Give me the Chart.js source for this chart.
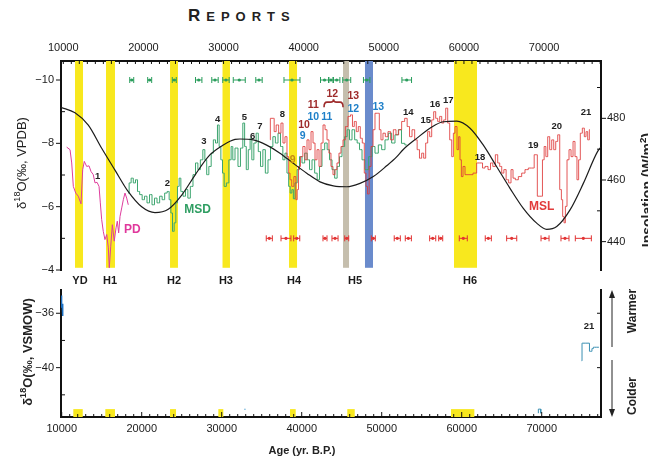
<!DOCTYPE html>
<html><head><meta charset="utf-8">
<script src="https://cdn.jsdelivr.net/npm/chart.js@4.4.1/dist/chart.umd.min.js"></script>
<style>
body{margin:0;width:648px;height:457px;overflow:hidden;background:#fff;position:relative;font-family:'Liberation Sans',Arial,sans-serif}
canvas{position:absolute;left:0}
#c1{top:0}
#c2{top:285px}
.t{position:absolute;white-space:nowrap;color:#222;line-height:1}
.rot{transform:translate(-50%,-50%) rotate(-90deg)}
.ctr{transform:translate(-50%,-50%)}
sup{font-size:70%;vertical-align:top;position:relative;top:-2px}
</style></head><body>
<div class="t" style="left:188px;top:7px;font-weight:bold;font-size:17px;letter-spacing:6px">R<span style="font-size:13px">EPORTS</span></div>
<canvas id="c1" width="648" height="290" style="width:648px;height:290px"></canvas>
<canvas id="c2" width="648" height="172" style="width:648px;height:172px"></canvas>
<div class="t rot" style="left:21px;top:163px;font-size:13px">δ<sup>18</sup>O(‰, VPDB)</div>
<div class="t rot" style="left:647px;top:190px;font-size:14px;font-weight:bold">Insolation (W/m<sup>2</sup>)</div>
<div class="t rot" style="left:27px;top:352px;font-size:13px;font-weight:bold">δ<sup>18</sup>O(‰, VSMOW)</div>
<div class="t ctr" style="left:302px;top:450px;font-size:11px;font-weight:bold">Age (yr. B.P.)</div>
<div class="t rot" style="left:632px;top:311px;font-size:12px;font-weight:bold">Warmer</div>
<div class="t rot" style="left:632px;top:396px;font-size:12px;font-weight:bold">Colder</div>
<script>
// ---------- data ----------
const topAgeTicks = [10000,20000,30000,40000,50000,60000,70000];
const leftTicks = [-10,-8,-6,-4];
const leftMinor = [-9,-7,-5];
const rightTicks = [440,460,480];
const rightMinor = [450,470,490];
const bottomLeftTicks = [-36,-40];
const bottomLeftMinor = [-38,-42];

const pdAge = [10420,10840,11050,11250,11550,11870,12210,12420,12620,12920,13210,13460,13740,13960,14210,14460,14620,14790,14990,15200,15420,15620,15740,15920,16120,16360,16580,16740,16910,17080,17290,17490,17700,17910,18110];
const pdD18O = [-7.88,-7.80,-7.38,-6.64,-6.43,-6.33,-6.09,-7.17,-7.43,-7.27,-7.29,-7.11,-7.01,-6.75,-6.77,-6.64,-6.12,-5.59,-5.22,-4.96,-5.12,-4.70,-4.07,-4.75,-5.43,-4.91,-5.33,-5.54,-5.17,-5.69,-5.96,-6.22,-6.43,-6.27,-6.06];

const msdAge = [18110,18320,18610,18860,19160,19360,19700,19980,20280,20610,20910,21230,21530,21860,22190,22480,22820,23100,23320,23530,23730,23940,24150,24350,24560,24780,25100,25400,25690,26020,26350,26650,26940,27270,27560,27770,28020,28310,28600,28850,29140,29340,29560,29770,29970,30180,30520,30800,31090,31220,31640,31960,32260,32550,32710,32960,33210,33420,33640,33920,34210,34460,34760,35050,35380,35710,36010,36300,36630,36960,37260,37540,37790,38040,38210,38420,38630,38790,39040,39330,39630,39950,40290,40580,40880,41200,41540,41820,42120,42450,42790,43070,43370,43700,44030,44320,44620,44940,45280,45570,45870,46190,46530,46820,47120,47440,47860,48360,48690,49110,49520,49940,50360,50770,51180,51610,52020,52390,52860];
const msdD18O = [-6.43,-6.75,-6.90,-6.75,-6.85,-6.48,-6.38,-6.22,-6.33,-6.12,-6.38,-6.06,-6.27,-6.12,-6.33,-6.22,-6.43,-6.48,-6.22,-5.80,-5.22,-5.49,-6.12,-6.64,-6.90,-6.48,-6.33,-6.54,-6.27,-6.64,-7.01,-7.38,-7.17,-7.48,-7.80,-7.48,-7.01,-7.27,-7.69,-8.11,-8.01,-8.58,-7.90,-7.48,-7.06,-6.64,-6.75,-7.48,-7.90,-7.48,-7.85,-7.27,-7.85,-8.64,-7.90,-7.17,-7.80,-8.16,-7.48,-8.01,-8.32,-7.74,-7.27,-7.80,-7.06,-7.48,-7.90,-8.21,-8.01,-8.32,-7.90,-7.48,-7.69,-7.06,-6.64,-6.43,-6.54,-6.25,-6.75,-7.17,-7.58,-7.38,-7.69,-7.48,-7.17,-7.48,-7.06,-6.85,-7.27,-7.80,-8.01,-7.80,-7.48,-7.17,-6.90,-7.27,-7.58,-7.90,-8.21,-8.43,-8.11,-8.43,-8.11,-8.01,-7.80,-7.48,-7.17,-7.58,-7.90,-7.69,-7.95,-7.80,-8.11,-8.32,-8.01,-8.27,-8.43,-8.00,-7.95];

const mslAge = [35800,35880,36210,36420,36710,37040,37290,37540,37790,38040,38210,38380,38630,38920,39130,39250,39450,39750,40040,40290,40540,40790,41040,41290,41540,41790,42040,42290,42540,42790,43030,43280,43530,43780,44030,44280,44530,44780,45030,45370,45690,45990,46190,46440,46690,46940,47190,47440,47690,47860,48060,48280,48530,48780,49020,49360,49520,49770,50020,50360,50680,51020,51360,51680,52020,52430,52770,53060,53360,53680,54020,54300,54600,54850,55100,55350,55600,55850,56100,56350,56600,56850,57100,57350,57600,57850,58100,58350,58600,58760,59010,59260,59420,59600,59760,60010,60260,60760,61500,61670,62220,62420,62840,63170,63460,63750,64090,64340,64590,64840,65120,65410,65750,66000,66250,66580,67000,67410,67830,68240,68660,68870,69080,69240,69700,69900,70120,70330,70580,70830,71080,71330,71580,71830,72080,72240,72400,72580,72740,72990,73240,73490,73740,73980,74230,74400,74650,74900,75150,75320,75570,75730];
const mslD18O = [-8.11,-8.79,-8.79,-8.37,-8.58,-8.32,-8.64,-8.01,-8.21,-7.58,-7.06,-6.85,-6.64,-6.95,-6.22,-6.54,-7.27,-7.58,-7.90,-7.48,-8.11,-7.80,-8.37,-8.01,-7.48,-7.80,-7.27,-8.01,-8.58,-8.43,-8.11,-7.69,-7.27,-7.01,-7.17,-7.38,-7.69,-7.90,-8.11,-8.53,-8.85,-8.90,-8.53,-8.69,-8.37,-8.53,-8.16,-8.01,-7.06,-6.64,-6.40,-7.27,-7.90,-8.43,-8.95,-8.95,-8.43,-8.11,-8.32,-8.21,-8.37,-8.11,-8.43,-8.27,-8.43,-8.69,-8.79,-8.53,-8.21,-8.43,-8.11,-7.80,-7.53,-7.69,-7.53,-8.01,-8.37,-8.21,-8.74,-9.00,-8.79,-8.69,-8.85,-8.64,-8.74,-9.11,-8.64,-8.11,-7.58,-8.32,-8.53,-7.80,-8.21,-7.48,-6.95,-7.27,-7.01,-7.01,-7.06,-7.38,-7.38,-7.22,-7.27,-7.17,-7.38,-7.27,-7.64,-7.38,-7.27,-7.06,-7.17,-6.85,-6.75,-7.17,-6.90,-6.85,-6.95,-7.06,-7.17,-7.22,-7.22,-7.64,-7.64,-6.33,-6.33,-7.48,-7.90,-7.58,-8.21,-7.80,-8.11,-7.80,-8.06,-8.27,-6.54,-6.22,-5.69,-5.49,-6.01,-7.48,-7.80,-7.58,-8.06,-7.58,-6.85,-7.48,-8.32,-8.48,-8.21,-8.37,-8.11,-8.43];

const insAge = [9700,11460,13120,14790,16450,18110,19780,21440,23100,24780,26440,28100,29770,31430,32050,33710,35380,37040,38700,40380,42040,43700,45370,47030,48690,50360,51600,52430,54100,55760,57420,59100,60760,62420,64090,65750,67410,69080,70330,71580,73240,74900,76670,77110];
const insWm2 = [483.6,481.8,477.8,470.3,463.2,456.2,451.3,449.4,450.5,455.1,461.6,467.6,471.0,473.2,473.3,473.0,471.3,468.7,465.4,462.2,459.4,458.1,457.8,458.9,461.1,464.6,467.5,469.9,473.5,476.8,478.9,479.1,476.8,471.3,464.3,457.3,450.8,446.0,444.0,444.9,450.3,458.9,469.2,470.7];

// dating points with error bars
const msdDateAge = [18540,20780,23850,26900,28930,30300,31960,34420,38540,42600,43400,44120,45370,47860,52860];
const msdDateErr = [250,250,250,400,400,400,750,400,1000,500,250,400,500,400,600];
const msdDateLevel = -10;
const mslDateAge = [35710,37790,39130,42660,43910,45370,48690,51680,53060,56100,57100,59920,63040,65960,70120,72610,74900];
const mslDateErr = [380,620,380,250,380,250,250,380,380,380,250,500,380,630,500,500,1000];
const mslDateLevel = -5.0;

// event bands
const bandName = ['YD','H1','H2','H3','H4','H5g','H5b','H6'];
const bandStart = [11460,15330,23320,29870,38170,44910,47650,58760];
const bandEnd   = [12460,16450,24310,30800,39170,45660,48650,61630];
const bandStyle = ['#f8e81e','#f8e81e','#f8e81e','#f8e81e','#f8e81e','#c5bead','#6a8bcc','#f8e81e'];
const bandBottom = -4.07;
const eventName = ['YD','H1','H2','H3','H4','H5','H6'];
const eventAge = [12080,15830,23820,30300,38790,46400,60760];

// interstadial numbers
const isText = ['1','2','3','4','5','6','7','8','9','10','9','11','10','11','12','13','12','13','14','15','16','17','18','19','20','21'];
const isAge  = [14290,22980,27560,29270,32590,33640,34550,37330,38630,40040,39880,41200,41200,42870,43570,46190,46190,49310,53060,55230,56390,58050,62000,68660,71580,75230];
const isD18O = [-6.97,-6.75,-8.05,-8.76,-8.82,-8.23,-8.53,-8.92,-7.47,-8.56,-8.23,-9.21,-8.82,-8.82,-9.55,-9.49,-9.07,-9.13,-8.98,-8.71,-9.24,-9.37,-7.55,-7.92,-8.55,-8.97];
const isKind = ['k','k','k','k','k','k','k','k','o','r','b','r','b','b','r','r','b','b','k','k','k','k','k','k','k','k'];
const braceAge = [42540,44910];
const braceD18O = -9.3;
const seriesName = ['PD','MSD','MSL'];
const seriesLabAge = [18610,26770,69700];
const seriesLabD18O = [-5.26,-5.90,-5.99];

// bottom panel (ice core)
const iceBlueAge = [9920,9960,10020,10060,10110,10150];
const iceBlueD18O = [-34.7,-35.2,-35.6,-35.3,-36.2,-35.8];
const iceDashAge = [32820,32990];
const iceDashD18O = [-43.06,-43.06];
const iceTealAge = [75000,75080,75950,75990,76250,76310,76600,77150];
const iceTealD18O = [-39.5,-38.2,-38.2,-38.8,-38.8,-38.6,-38.5,-38.5];
const iceBlipAge = [69580,69580,69880,69880];
const iceBlipD18O = [-43.35,-43.05,-43.05,-43.35];
const botBandStart = [11450,15450,23540,29580,38540,45700,58660];
const botBandEnd   = [12630,16660,24290,30200,39250,46630,61580];
const botBandTop = -43.05;
const bot21Age = 75910, bot21D18O = -36.93;

// ---------- helpers ----------
const FONT = "'Liberation Sans', Arial, sans-serif";
const pts = (a,b)=>a.map((v,i)=>({x:v,y:b[i]}));
const minus = v => (v<0?'\u2212':'')+Math.abs(v);
const kindColor = {k:'#222222', o:'#c48a12', r:'#9e2b2b', b:'#1f80c9'};
const seriesColor = ['#e0389c','#2f9e62','#e23b3b'];
const axisCommon = (extra)=>Object.assign({
  grid:{display:true, drawOnChartArea:false, drawTicks:false},
  border:{display:true, color:'#111', width:2},
  ticks:{autoSkip:false, maxRotation:0, color:'#1a1a1a', font:{family:FONT, size:11}}
}, extra);
const fixW = w => s => { s.width = w; s.paddingTop = 0; s.paddingBottom = 0; };
const fixH = h => s => { s.height = h; s.paddingLeft = 0; s.paddingRight = 0; };

function tick(ctx,x0,y0,x1,y1){ctx.beginPath();ctx.moveTo(x0,y0);ctx.lineTo(x1,y1);ctx.stroke();}

const topPlugin = {
  id:'topDeco',
  beforeDatasetsDraw(chart){
    const {ctx, chartArea:a, scales:{x,y}} = chart;
    ctx.save();
    const yb = y.getPixelForValue(bandBottom);
    bandStart.forEach((s,i)=>{
      const x0=x.getPixelForValue(s), x1=x.getPixelForValue(bandEnd[i]);
      ctx.fillStyle=bandStyle[i];
      ctx.fillRect(x0,a.top,x1-x0,yb-a.top);
    });
    ctx.restore();
  },
  afterDatasetsDraw(chart){
    const {ctx, chartArea:a, scales:{x,y}} = chart;
    ctx.save();
    const drawErr=(ages,errs,lev,col)=>{
      const py=y.getPixelForValue(lev);
      ctx.strokeStyle=col; ctx.fillStyle=col; ctx.lineWidth=1;
      ages.forEach((g,i)=>{
        const xa=x.getPixelForValue(g-errs[i]), xb=x.getPixelForValue(g+errs[i]), xc=x.getPixelForValue(g);
        tick(ctx,xa,py,xb,py); tick(ctx,xa,py-3,xa,py+3); tick(ctx,xb,py-3,xb,py+3);
        ctx.beginPath(); ctx.arc(xc,py,1.6,0,Math.PI*2); ctx.fill();
      });
    };
    drawErr(msdDateAge,msdDateErr,msdDateLevel,'#2a9d5c');
    drawErr(mslDateAge,mslDateErr,mslDateLevel,'#e23333');
    ctx.textAlign='center'; ctx.textBaseline='middle';
    isText.forEach((t,i)=>{
      const k=isKind[i];
      ctx.fillStyle=kindColor[k];
      ctx.font='bold '+(k==='k'?'9.5px ':'10.5px ')+FONT;
      ctx.fillText(t,x.getPixelForValue(isAge[i]),y.getPixelForValue(isD18O[i]));
    });
    const bx0=x.getPixelForValue(braceAge[0]), bx1=x.getPixelForValue(braceAge[1]), by=y.getPixelForValue(braceD18O), bm=(bx0+bx1)/2;
    ctx.strokeStyle=kindColor.r; ctx.lineWidth=1.6;
    ctx.beginPath();
    ctx.moveTo(bx0,by+5); ctx.quadraticCurveTo(bx0,by,bx0+3,by);
    ctx.lineTo(bm-3,by); ctx.quadraticCurveTo(bm,by,bm,by-3);
    ctx.quadraticCurveTo(bm,by,bm+3,by); ctx.lineTo(bx1-3,by);
    ctx.quadraticCurveTo(bx1,by,bx1,by+5);
    ctx.stroke();
    ctx.font='bold 12px '+FONT;
    seriesName.forEach((n,i)=>{ctx.fillStyle=seriesColor[i];ctx.fillText(n,x.getPixelForValue(seriesLabAge[i]),y.getPixelForValue(seriesLabD18O[i]));});
    ctx.fillStyle='#1a1a1a'; ctx.font='bold 11px '+FONT;
    eventName.forEach((n,i)=>ctx.fillText(n,x.getPixelForValue(eventAge[i]),a.bottom+11));
    ctx.restore();
  },
  afterDraw(chart){
    const {ctx, chartArea:a, scales:{x,y,yR}} = chart;
    ctx.save(); ctx.strokeStyle='#111'; ctx.lineWidth=1;
    for(let v=10000; v<=77000; v+=1000){const px=x.getPixelForValue(v); tick(ctx,px,a.top,px,a.top+3);}
    leftTicks.forEach(v=>{const py=y.getPixelForValue(v); tick(ctx,a.left-5,py,a.left,py);});
    leftMinor.forEach(v=>{const py=y.getPixelForValue(v); tick(ctx,a.left,py,a.left+4,py);});
    rightTicks.forEach(v=>{const py=yR.getPixelForValue(v); tick(ctx,a.right,py,a.right+5,py);});
    rightMinor.forEach(v=>{const py=yR.getPixelForValue(v); tick(ctx,a.right-4,py,a.right,py);});
    ctx.restore();
  }
};

new Chart(document.getElementById('c1'), {
  type:'line',
  data:{datasets:[
    {data:pts(insAge,insWm2), yAxisID:'yR', borderColor:'#1c1c1c', borderWidth:1.2, pointRadius:0, pointHoverRadius:0, cubicInterpolationMode:'monotone', order:0},
    {data:pts(mslAge,mslD18O), yAxisID:'y', borderColor:'rgba(222,58,58,0.85)', borderWidth:1, pointRadius:0, pointHoverRadius:0, stepped:'middle', order:1},
    {data:pts(pdAge,pdD18O), yAxisID:'y', borderColor:'#de3d9c', borderWidth:1, pointRadius:0, pointHoverRadius:0, order:2},
    {data:pts(msdAge,msdD18O), yAxisID:'y', borderColor:'#3da56f', borderWidth:1, pointRadius:0, pointHoverRadius:0, stepped:'middle', order:3}
  ]},
  options:{
    responsive:false, animation:false, events:[],
    layout:{autoPadding:false, padding:{left:0,right:0,top:0,bottom:20}},
    plugins:{legend:{display:false}, tooltip:{enabled:false}},
    scales:{
      x:axisCommon({type:'linear', position:'top', min:9713, max:77105,
        afterFit:fixH(61),
        afterBuildTicks:s=>{s.ticks=topAgeTicks.map(v=>({value:v}));},
        ticks:{autoSkip:false,maxRotation:0,padding:6,color:'#1a1a1a',font:{family:FONT,size:11},callback:v=>String(v)}}),
      y:axisCommon({type:'linear', position:'left', reverse:true, min:-10.6, max:-4.0,
        afterFit:fixW(61),
        afterBuildTicks:s=>{s.ticks=leftTicks.map(v=>({value:v}));},
        ticks:{autoSkip:false,padding:7,color:'#1a1a1a',font:{family:FONT,size:11},callback:v=>minus(v)}}),
      yR:axisCommon({type:'linear', position:'right', min:430.8, max:498.6,
        afterFit:fixW(47),
        afterBuildTicks:s=>{s.ticks=rightTicks.map(v=>({value:v}));},
        ticks:{autoSkip:false,padding:6,color:'#1a1a1a',font:{family:FONT,size:11},callback:v=>String(v)}})
    }
  },
  plugins:[topPlugin]
});

const botPlugin = {
  id:'botDeco',
  beforeDatasetsDraw(chart){
    const {ctx, chartArea:a, scales:{x,y}} = chart;
    ctx.save(); ctx.fillStyle='#f8e81e';
    const yt=y.getPixelForValue(botBandTop);
    botBandStart.forEach((s,i)=>{
      const x0=x.getPixelForValue(s), x1=x.getPixelForValue(botBandEnd[i]);
      ctx.fillRect(x0,yt,x1-x0,a.bottom-yt);
    });
    ctx.restore();
  },
  afterDraw(chart){
    const {ctx, chartArea:a, scales:{x,y}} = chart;
    ctx.save(); ctx.strokeStyle='#111'; ctx.lineWidth=1;
    for(let v=10000; v<=77000; v+=1000){const px=x.getPixelForValue(v); tick(ctx,px,a.bottom,px,a.bottom-(v%10000===0?5:3));}
    bottomLeftTicks.forEach(v=>{const py=y.getPixelForValue(v); tick(ctx,a.left-5,py,a.left,py); tick(ctx,a.right-4,py,a.right,py);});
    bottomLeftMinor.forEach(v=>{const py=y.getPixelForValue(v); tick(ctx,a.left,py,a.left+4,py);});
    const ax=a.right+11;
    ctx.strokeStyle='#222'; ctx.fillStyle='#222'; ctx.lineWidth=1;
    tick(ctx,ax,a.top+4,ax,a.top+57); tick(ctx,ax,a.top+70,ax,a.bottom-4);
    ctx.beginPath(); ctx.moveTo(ax,a.top); ctx.lineTo(ax-3,a.top+8); ctx.lineTo(ax+3,a.top+8); ctx.closePath(); ctx.fill();
    ctx.beginPath(); ctx.moveTo(ax,a.bottom); ctx.lineTo(ax-3,a.bottom-8); ctx.lineTo(ax+3,a.bottom-8); ctx.closePath(); ctx.fill();
    ctx.fillStyle='#222'; ctx.font='bold 9.5px '+FONT; ctx.textAlign='center'; ctx.textBaseline='middle';
    ctx.fillText('21',x.getPixelForValue(bot21Age),y.getPixelForValue(bot21D18O));
    ctx.restore();
  }
};

new Chart(document.getElementById('c2'), {
  type:'line',
  data:{datasets:[
    {data:pts(iceBlueAge,iceBlueD18O), borderColor:'#1a6fc2', borderWidth:1.4, pointRadius:0, pointHoverRadius:0},
    {data:pts(iceDashAge,iceDashD18O), borderColor:'#4a9fd0', borderWidth:1, pointRadius:0, pointHoverRadius:0},
    {data:pts(iceTealAge,iceTealD18O), borderColor:'#3a8fb2', borderWidth:1, pointRadius:0, pointHoverRadius:0, stepped:'middle'},
    {data:pts(iceBlipAge,iceBlipD18O), borderColor:'#3a8fb2', borderWidth:1, pointRadius:0, pointHoverRadius:0}
  ]},
  options:{
    responsive:false, animation:false, events:[],
    layout:{autoPadding:false, padding:{left:0,right:0,top:5,bottom:0}},
    plugins:{legend:{display:false}, tooltip:{enabled:false}},
    scales:{
      x:axisCommon({type:'linear', position:'bottom', min:9912, max:77412,
        afterFit:fixH(40),
        afterBuildTicks:s=>{s.ticks=topAgeTicks.map(v=>({value:v}));},
        ticks:{autoSkip:false,maxRotation:0,padding:5,color:'#1a1a1a',font:{family:FONT,size:11},callback:v=>String(v)}}),
      y:axisCommon({type:'linear', position:'left', min:-43.63, max:-34.29,
        afterFit:fixW(61),
        afterBuildTicks:s=>{s.ticks=bottomLeftTicks.map(v=>({value:v}));},
        ticks:{autoSkip:false,padding:7,color:'#1a1a1a',font:{family:FONT,size:11},callback:v=>minus(v)}}),
      yR:axisCommon({type:'linear', position:'right', min:-43.63, max:-34.29,
        afterFit:fixW(47),
        afterBuildTicks:s=>{s.ticks=[];},
        ticks:{display:false}})
    }
  },
  plugins:[botPlugin]
});
</script>
</body></html>
